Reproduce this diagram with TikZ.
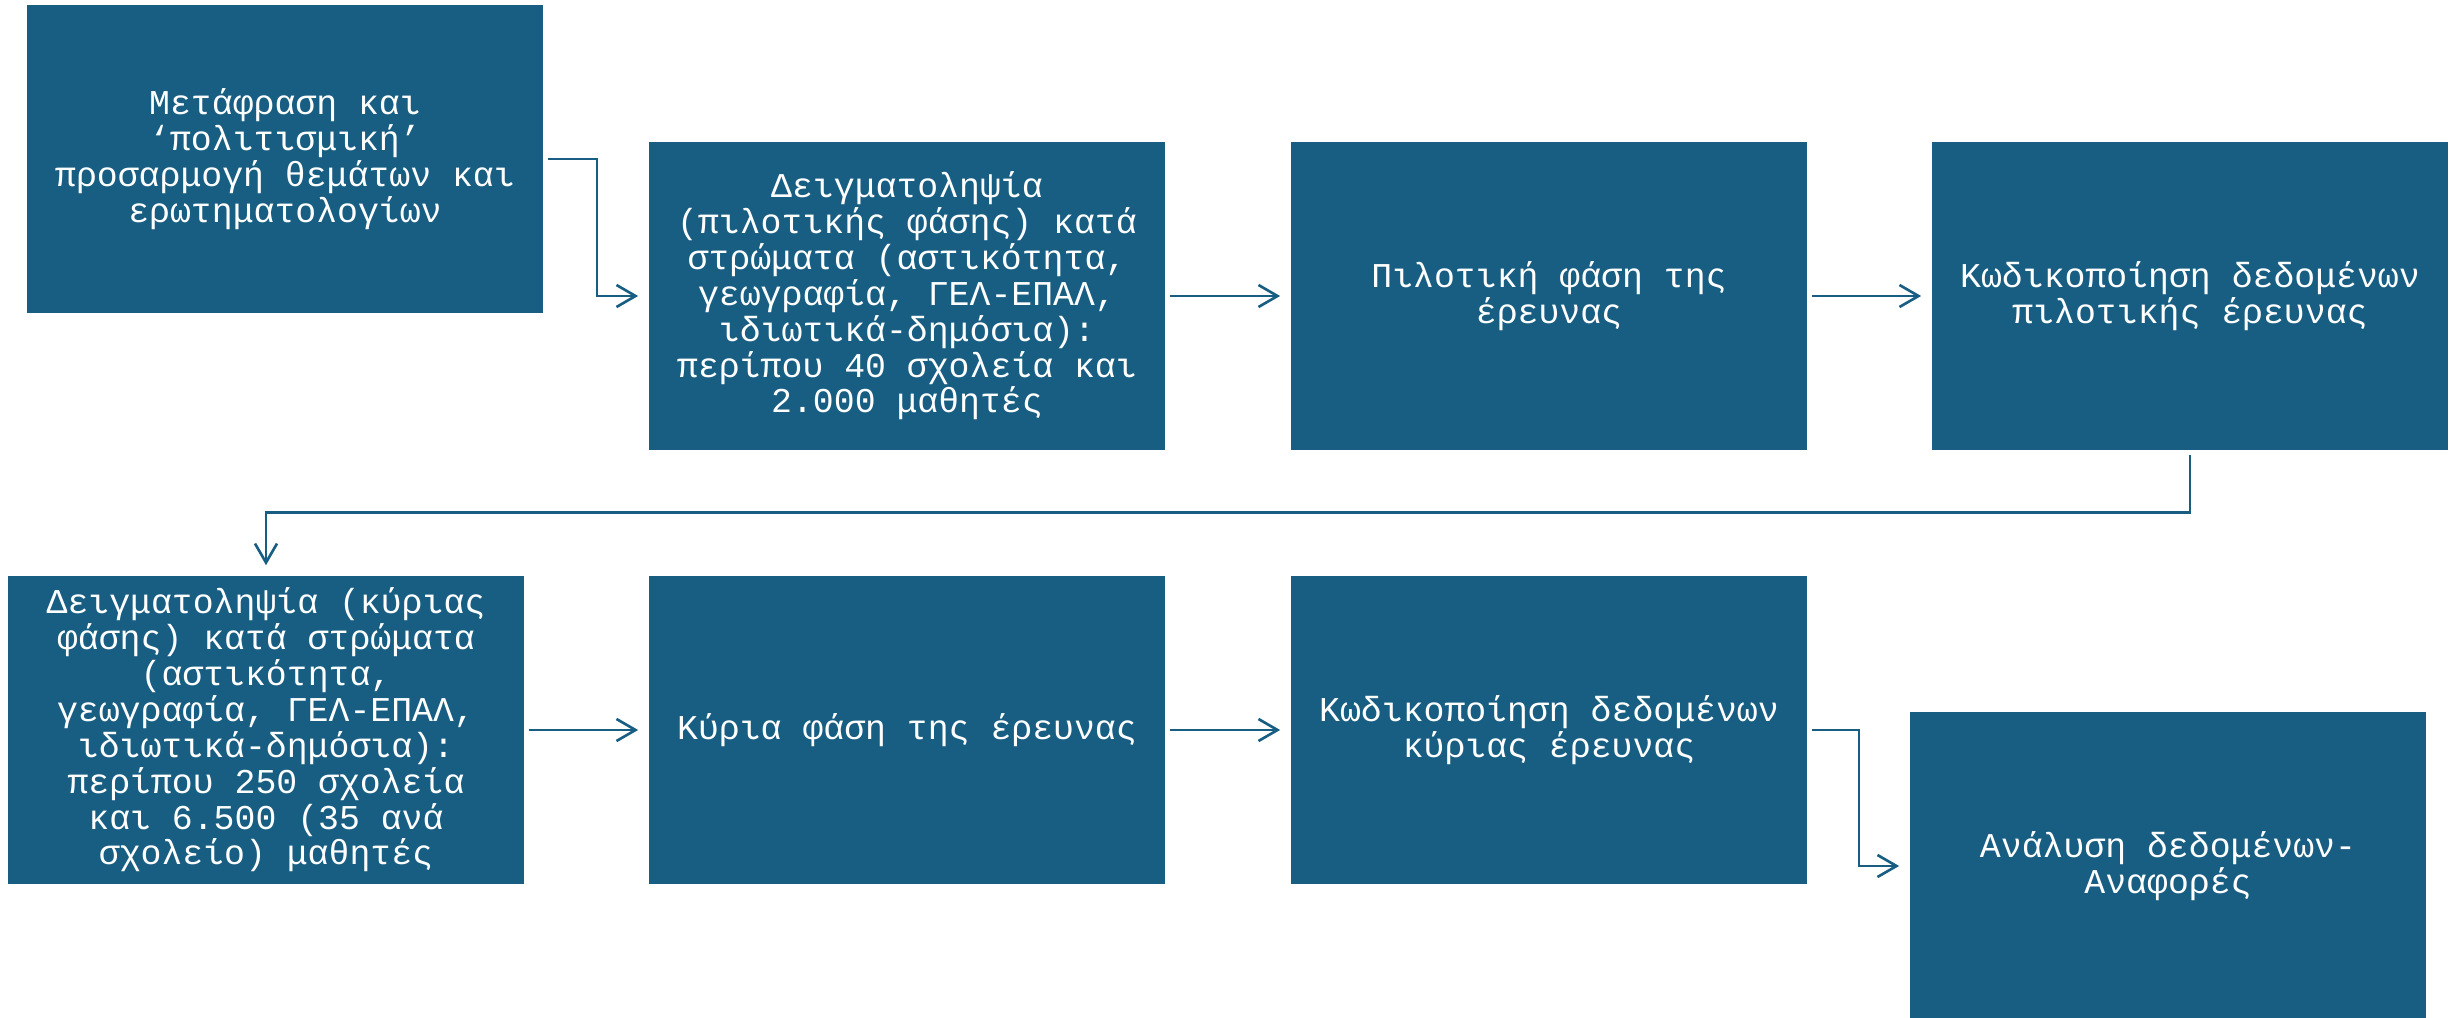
\documentclass[tikz,border=0pt]{standalone}
\usepackage{fontspec}
\setmainfont{Liberation Mono}
\usetikzlibrary{arrows.meta}
\definecolor{boxblue}{RGB}{23,94,130}

\begin{document}
\begin{tikzpicture}
  [x=0.01cm,y=-0.01cm,
   every node/.style={rectangle,fill=boxblue,text=white,align=center,
     minimum width=5.16cm,minimum height=3.08cm,inner sep=0pt,
     font=\fontsize{9.9}{10.2}\selectfont},
   link/.style={draw=boxblue,line width=0.75pt,
     -{Straight Barb[length=1.9mm,width=2.2mm]},
     shorten <=0.4mm,shorten >=1mm}]

  \useasboundingbox (0,0) rectangle (2453,1018);

  \node (b1) at (285,159) {Μετάφραση και\\‘πολιτισμική’\\προσαρμογή θεμάτων και\\ερωτηματολογίων};
  \node (b2) at (907,296) {Δειγματοληψία\\(πιλοτικής φάσης) κατά\\στρώματα (αστικότητα,\\γεωγραφία, ΓΕΛ-ΕΠΑΛ,\\ιδιωτικά-δημόσια):\\περίπου 40 σχολεία και\\2.000 μαθητές};
  \node (b3) at (1549,296) {Πιλοτική φάση της\\έρευνας};
  \node (b4) at (2190,296) {Κωδικοποίηση δεδομένων\\πιλοτικής έρευνας};
  \node (b5) at (266,730) {Δειγματοληψία (κύριας\\φάσης) κατά στρώματα\\(αστικότητα,\\γεωγραφία, ΓΕΛ-ΕΠΑΛ,\\ιδιωτικά-δημόσια):\\περίπου 250 σχολεία\\και 6.500 (35 ανά\\σχολείο) μαθητές};
  \node (b6) at (907,730) {Κύρια φάση της έρευνας};
  \node (b7) at (1549,730) {Κωδικοποίηση δεδομένων\\κύριας έρευνας};
  \node (b8) at (2168,866) {Ανάλυση δεδομένων-\\Αναφορές};

  \foreach \from/\to in {b2/b3,b3/b4,b5/b6,b6/b7}
    \draw [link] (\from) -- (\to);
  \draw [link] (b1.east) -- +(53,0) |- (b2.west);
  \draw [link] (b4.south) -- +(0,62) -| (b5.north);
  \draw [link] (b7.east) -- +(51,0) |- (b8.west);
\end{tikzpicture}
\end{document}
